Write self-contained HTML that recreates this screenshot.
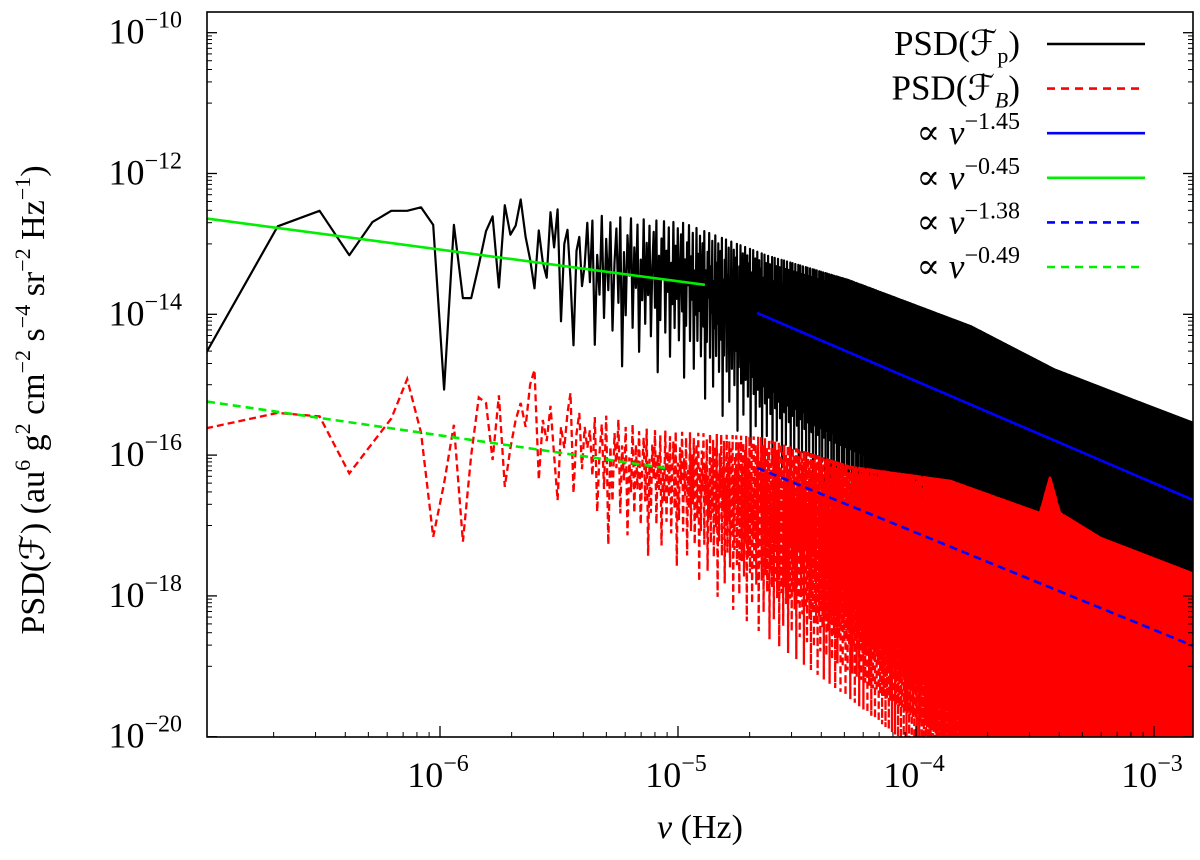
<!DOCTYPE html>
<html><head><meta charset="utf-8">
<style>
html,body{margin:0;padding:0;background:#fff;}
svg{display:block;font-family:"Liberation Serif","DejaVu Serif",serif;}
</style></head>
<body>
<svg id="chart" width="1200" height="860" viewBox="0 0 1200 860" xmlns="http://www.w3.org/2000/svg">
  <defs><clipPath id="plotclip"><rect x="207" y="12" width="986" height="725"/></clipPath></defs>
  <rect x="0" y="0" width="1200" height="860" fill="#fff"/>
  <g id="series" clip-path="url(#plotclip)"></g>
  <g id="axes"></g>
  <g id="legend"></g>
  <text x="700" y="838" font-size="34" text-anchor="middle"><tspan font-style="italic">ν</tspan> (Hz)</text>
  <text transform="translate(44,400) rotate(-90)" font-size="34" text-anchor="middle">PSD(ℱ)  (au<tspan font-size="22" dy="-14">6</tspan><tspan dy="14"> g</tspan><tspan font-size="22" dy="-14">2</tspan><tspan dy="14"> cm</tspan><tspan font-size="22" dy="-14">−2</tspan><tspan dy="14"> s</tspan><tspan font-size="22" dy="-14">−4</tspan><tspan dy="14"> sr</tspan><tspan font-size="22" dy="-14">−2</tspan><tspan dy="14"> Hz</tspan><tspan font-size="22" dy="-14">−1</tspan><tspan dy="14">)</tspan></text>
</svg>
<script>
// ---- data ----
const freqStep = 1.04e-7;            // Hz, frequency resolution (nu_k = k * freqStep)
const maxIndex = 14100;
// log10 PSD of F_p for k = 1..40
const psdPLow = [-14.55,-12.75,-12.53,-13.16,-12.69,-12.53,-12.53,-12.48,-12.73,-15.07,
  -12.73,-13.77,-13.77,-13.3,-12.82,-12.61,-13.62,-12.45,-12.87,-12.74,
  -12.37,-12.9,-13.22,-13.63,-12.81,-13.26,-13.48,-12.55,-13.05,-12.51,
  -14.1,-13.0,-12.8,-13.5,-14.44,-13.1,-12.9,-13.6,-13.3,-12.7];
// log10 PSD of F_B for k = 1..40
const psdBLow = [-15.62,-15.40,-15.45,-16.26,-15.83,-15.48,-14.92,-15.68,-17.16,-16.4,
  -15.57,-17.23,-16.0,-15.18,-15.26,-16.07,-15.15,-16.45,-15.9,-15.5,
  -15.26,-15.6,-15.0,-14.79,-16.35,-15.5,-15.8,-15.3,-16.0,-16.64,
  -15.6,-15.9,-15.4,-15.12,-16.54,-15.7,-15.4,-16.2,-15.6,-15.9];
// envelopes of the dense high-frequency part (log10 nu, log10 PSD)
const envNu      = [-5.496,-4.979,-4.630,-4.286,-3.769,-3.420,-3.076,-2.836];
const psdPUpper  = [-12.55,-12.70,-13.16,-13.51,-14.17,-14.78,-15.23,-15.54];
const psdPLower  = [-14.12,-14.38,-15.39,-15.90,-16.65,-17.16,-17.58,-17.77];
const envNuB     = [-5.496,-5.118,-4.655,-4.277,-3.857,-3.479,-3.437,-3.395,-3.227,-2.836];
const psdBUpper  = [-15.23,-15.64,-15.74,-16.15,-16.35,-16.81,-16.30,-16.81,-17.16,-17.67];
const envNuBL    = [-5.496,-4.979,-4.630,-4.286,-3.93,-3.6,-2.836];
const psdBLower  = [-16.65,-17.16,-17.93,-18.68,-19.45,-20.3,-20.6];
// relative position between lower (0) and upper (1) envelope, cycled over frequency index
const spikePattern = [1,0.1,0.8,0.35,0.95,0,0.6,0.9,0.25,1,-0.3,0.7,0.15,0.85,0.5,1,0.05,0.75,0.4,0.95,-0.15,0.65,0.3];
// power-law fits: [log10 nu start, log10 nu end, log10 PSD at start, exponent]
const fitP1 = [-6.979,-4.887,-12.64,-0.45];
const fitP2 = [-4.668,-2.836,-13.98,-1.45];
const fitB1 = [-6.979,-5.038,-15.24,-0.49];
const fitB2 = [-4.668,-2.836,-16.18,-1.38];
const yTickExps = [-10,-12,-14,-16,-18,-20];
const xTickExps = [-6,-5,-4,-3];

// ---- axes functions ----
const X = lv => 440 + 238*(lv+6);
const Y = lp => 32.7 + 70.4*(-10-lp);
const NS = "http://www.w3.org/2000/svg";
function mk(tag, attrs, parent){const e=document.createElementNS(NS,tag);for(const k in attrs)e.setAttribute(k,attrs[k]);parent.appendChild(e);return e;}
function interp(xs, ys, x){
  if(x<=xs[0]) return ys[0];
  for(let i=1;i<xs.length;i++){ if(x<=xs[i]){const t=(x-xs[i-1])/(xs[i]-xs[i-1]);return ys[i-1]+t*(ys[i]-ys[i-1]);} }
  return ys[ys.length-1];
}
const series=document.getElementById('series');
const axes=document.getElementById('axes');
const legend=document.getElementById('legend');

function buildPath(low, upX, up, loX, lo, shift){
  let d='';
  for(let k=1;k<=maxIndex;k++){
    const lv=Math.log10(k*freqStep);
    let lp;
    if(k<=low.length) lp=low[k-1];
    else {
      const u=interp(upX,up,lv), l=interp(loX,lo,lv);
      const f=spikePattern[(k+shift)%spikePattern.length];
      lp = l + f*(u-l);
    }
    d += (k===1?'M':'L') + X(lv).toFixed(1)+' '+Y(lp).toFixed(1);
  }
  return d;
}
const pP = mk('path',{d:buildPath(psdPLow,envNu,psdPUpper,envNu,psdPLower,0),fill:'none',stroke:'#000','stroke-width':2.2,'stroke-linejoin':'round'},series);


const pB = mk('path',{d:buildPath(psdBLow,envNuB,psdBUpper,envNuBL,psdBLower,7),fill:'none',stroke:'#ff0000','stroke-width':2.3,'stroke-dasharray':'7,4'},series);



function fit(f,color,dash,name){
  const l = mk('line',{x1:X(f[0]),y1:Y(f[2]),x2:X(f[1]),y2:Y(f[2]+f[3]*(f[1]-f[0])),stroke:color,'stroke-width':2.6},series);
  if(dash) l.setAttribute('stroke-dasharray','8,5');
  
  
}
fit(fitP1,'#00ee00',false,'fit-fp-low');
fit(fitP2,'#0000ff',false,'fit-fp-high');
fit(fitB1,'#00ee00',true,'fit-fb-low');
fit(fitB2,'#0000ff',true,'fit-fb-high');

// frame
const fr = mk('rect',{x:207,y:12,width:986,height:725,fill:'none',stroke:'#000','stroke-width':1.6},axes);



// y ticks
yTickExps.forEach(e=>{
  const y=Y(e);
  mk('line',{x1:207,y1:y,x2:217,y2:y,stroke:'#000','stroke-width':1.3},axes);
  mk('line',{x1:1193,y1:y,x2:1183,y2:y,stroke:'#000','stroke-width':1.3},axes);
  if(e>-20){
    for(let m=1;m<=9;m++){
      const yy=Y(e-1+Math.log10(m));
      mk('line',{x1:207,y1:yy,x2:212,y2:yy,stroke:'#000','stroke-width':1},axes);
      mk('line',{x1:1193,y1:yy,x2:1188,y2:yy,stroke:'#000','stroke-width':1},axes);
    }
  }
  const t=mk('text',{x:182,y:y+11,'font-size':36,'text-anchor':'end'},axes);
  
  
  t.innerHTML='10<tspan font-size="24" dy="-16">−'+(-e)+'</tspan>';
});
// x ticks
for(let d=-7;d<=-3;d++){
  for(let m=1;m<=9;m++){
    const lv=d+Math.log10(m);
    const x=X(lv);
    if(x<207||x>1193) continue;
    const len = m===1?11:5;
    mk('line',{x1:x,y1:737,x2:x,y2:737-len,stroke:'#000','stroke-width':m===1?1.3:1},axes);
  }
}
xTickExps.forEach(e=>{
  const t=mk('text',{x:X(e)-2,y:787,'font-size':36,'text-anchor':'middle'},axes);
  
  
  t.innerHTML='10<tspan font-size="24" dy="-16">−'+(-e)+'</tspan>';
});

// legend
const legItems = [
  ['PSD(ℱ<tspan font-size="22" dy="8">p</tspan><tspan dy="-8">)</tspan>','#000',false,'legend-psd-fp'],
  ['PSD(ℱ<tspan font-size="22" dy="8" font-style="italic">B</tspan><tspan dy="-8">)</tspan>','#ff0000',true,'legend-psd-fb'],
  ['∝ <tspan font-style="italic">ν</tspan><tspan font-size="24" dy="-15">−1.45</tspan>','#0000ff',false,'legend-fit-145'],
  ['∝ <tspan font-style="italic">ν</tspan><tspan font-size="24" dy="-15">−0.45</tspan>','#00ee00',false,'legend-fit-045'],
  ['∝ <tspan font-style="italic">ν</tspan><tspan font-size="24" dy="-15">−1.38</tspan>','#0000ff',true,'legend-fit-138'],
  ['∝ <tspan font-style="italic">ν</tspan><tspan font-size="24" dy="-15">−0.49</tspan>','#00ee00',true,'legend-fit-049']
];
legItems.forEach((it,i)=>{
  const y=44+i*44.6;
  const g=mk('g',{},legend);
  
  
  const t=mk('text',{x:1020,y:y+11,'font-size':35,'text-anchor':'end'},g);
  t.innerHTML=it[0];
  const l=mk('line',{x1:1047,y1:y,x2:1145,y2:y,stroke:it[1],'stroke-width':2.6},g);
  if(it[2]) l.setAttribute('stroke-dasharray','8,6');
});
</script>
</body></html>
